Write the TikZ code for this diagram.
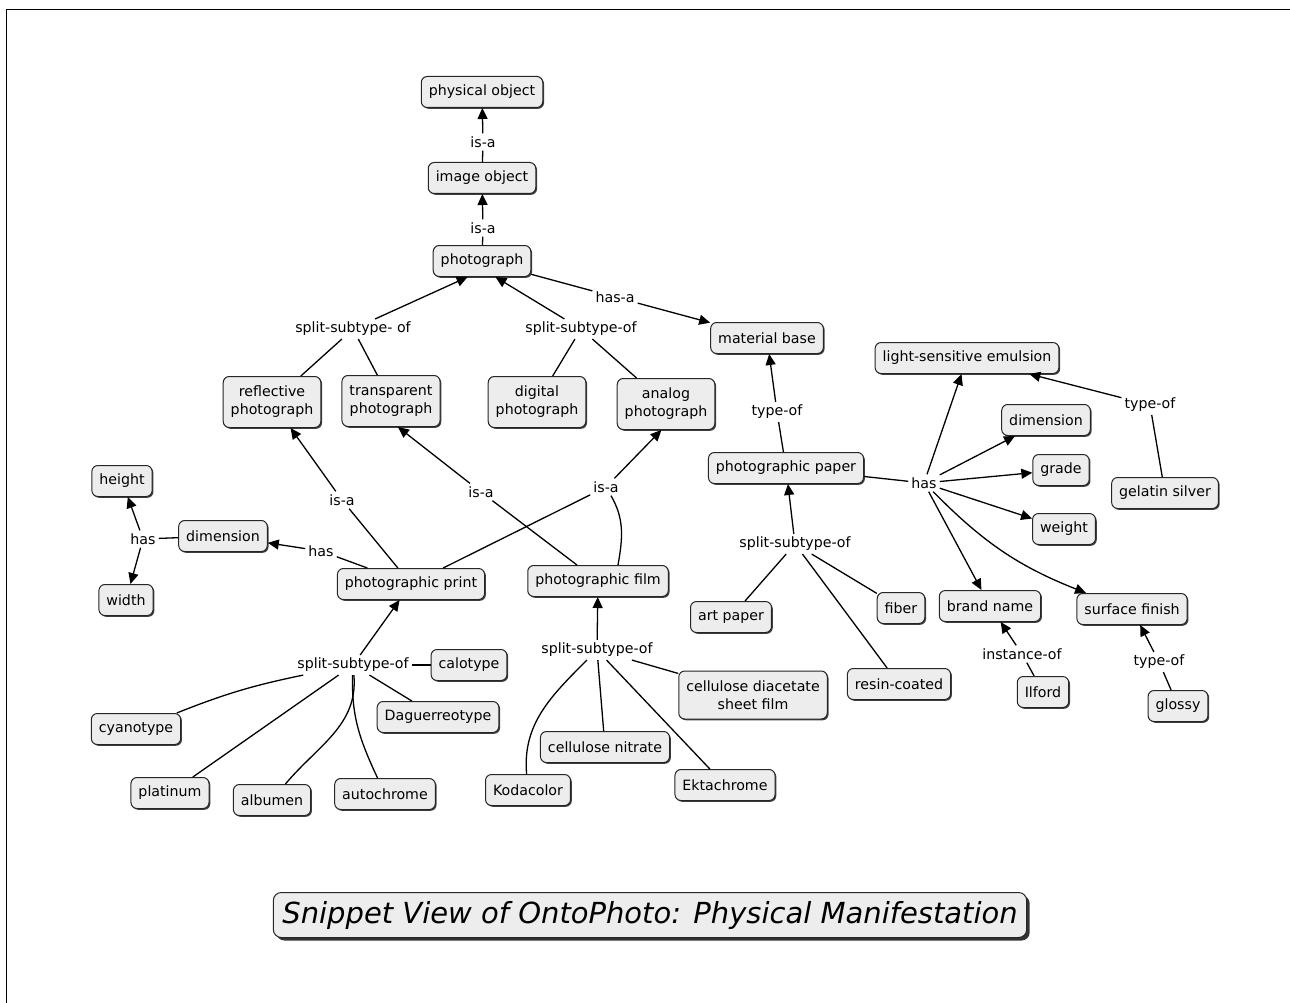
\documentclass[tikz,border=0pt]{standalone}
\usepackage{fontspec}
\setmainfont{DejaVu Sans}
\newfontfamily\titrefont{DejaVu Sans}
\usetikzlibrary{arrows.meta,shadows}

\begin{document}
\begin{tikzpicture}[x=1pt,y=-1pt,
    concept/.style={draw=black!85, line width=1pt, fill=gray!14, rounded corners=6pt,
      inner xsep=7.5pt, inner ysep=4pt, minimum height=31pt, align=center,
      font=\fontsize{14.2}{18}\selectfont,
      drop shadow={shadow xshift=1.3pt, shadow yshift=-1.3pt, fill=black!75, opacity=1}},
    double/.style={minimum height=51pt},
    lien/.style={inner sep=3pt, font=\fontsize{14.2}{16.5}\selectfont},
    trait/.style={line width=1.3pt},
    fleche/.style={trait, -{Triangle[length=11pt,width=10pt]}}]

  % Cadre
  \useasboundingbox (0,0) rectangle (1290,1003);
  \draw[line width=1.6pt] (6.5,1003) -- (6.5,9.5) -- (1290,9.5);

  % Concepts du haut
  \node[concept] (physobj) at (482,92) {physical object};
  \node[concept] (imgobj) at (482,178) {image object};
  \node[concept] (photo) at (482,261) {photograph};
  \node[concept] (matbase) at (767,338) {material base};
  \node[concept, double] (reflect) at (272,402) {reflective\\photograph};
  \node[concept, double] (transp) at (391,401) {transparent\\photograph};
  \node[concept, double] (digital) at (537,402) {digital\\photograph};
  \node[concept, double] (analog) at (666,404) {analog\\photograph};

  % Papier photographique
  \node[concept] (emulsion) at (967,358) {light-sensitive emulsion};
  \node[concept] (dimR) at (1046,420) {dimension};
  \node[concept] (paper) at (786,468) {photographic paper};
  \node[concept] (grade) at (1061,470) {grade};
  \node[concept] (gelatin) at (1165,493) {gelatin silver};
  \node[concept] (weight) at (1064,529) {weight};
  \node[concept] (brand) at (990,606) {brand name};
  \node[concept] (surface) at (1132,609) {surface finish};
  \node[concept] (ilford) at (1043,692) {Ilford};
  \node[concept] (glossy) at (1178,706) {glossy};
  \node[concept] (artpaper) at (731,617) {art paper};
  \node[concept] (fiber) at (901,608) {fiber};
  \node[concept] (resin) at (899,684) {resin-coated};

  % Tirage et film
  \node[concept] (height) at (122,481) {height};
  \node[concept] (dimL) at (223,536) {dimension};
  \node[concept] (width) at (126,600) {width};
  \node[concept] (print) at (411,584) {photographic print};
  \node[concept] (film) at (598,581) {photographic film};
  \node[concept] (calotype) at (469,665) {calotype};
  \node[concept] (cyanotype) at (136,729) {cyanotype};
  \node[concept] (daguerre) at (438,717) {Daguerreotype};
  \node[concept] (platinum) at (170,793) {platinum};
  \node[concept] (albumen) at (272,800) {albumen};
  \node[concept] (autochrome) at (385,794) {autochrome};
  \node[concept, minimum height=48pt] (diacetate) at (753,695) {cellulose diacetate\\sheet film};
  \node[concept] (nitrate) at (605,747) {cellulose nitrate};
  \node[concept] (kodacolor) at (528,790) {Kodacolor};
  \node[concept] (ektachrome) at (725,785) {Ektachrome};

  % Etiquettes des liens
  \node[lien] (isa1) at (483,142) {is-a};
  \node[lien] (isa2) at (483,228) {is-a};
  \node[lien] (hasa) at (615,297) {has-a};
  \node[lien] (split1) at (353,329) {split-subtype- of};
  \node[lien] (split2) at (581,329) {split-subtype-of};
  \node[lien] (typeof1) at (777,412) {type-of};
  \node[lien] (typeof2) at (1150,405) {type-of};
  \node[lien] (has1) at (924,483) {has};
  \node[lien] (instof) at (1022,654) {instance-of};
  \node[lien] (typeof3) at (1159,662) {type-of};
  \node[lien] (split3) at (795,544) {split-subtype-of};
  \node[lien] (isa3) at (342,500) {is-a};
  \node[lien] (isa4) at (481,492) {is-a};
  \node[lien] (isa5) at (606,487) {is-a};
  \node[lien] (has2) at (143,539) {has};
  \node[lien] (has3) at (321,551) {has};
  \node[lien] (split4) at (353,665) {split-subtype-of};
  \node[lien] (split5) at (597,650) {split-subtype-of};

  % Traits sans fleche
  \foreach \a/\b in {imgobj/isa1, photo/isa2, photo/hasa, reflect/split1, transp/split1,
      digital/split2, analog/split2, paper/typeof1, gelatin/typeof2, paper/has1,
      ilford/instof, glossy/typeof3, artpaper/split3, fiber/split3, resin/split3,
      print/isa3, film/isa4, print/isa5, dimL/has2, print/has3, calotype/split4,
      platinum/split4, daguerre/split4, nitrate/split5, diacetate/split5, ektachrome/split5} {
    \draw[trait] (\a) -- (\b);
  }

  % Fleches
  \foreach \a/\b in {isa1/physobj, isa2/imgobj, hasa/matbase, split1/photo.228, split2/photo.310,
      typeof1/matbase, typeof2/emulsion, has1/emulsion, has1/dimR, has1/grade, has1/weight,
      has1/brand, instof/brand, typeof3/surface, split3/paper, isa3/reflect, isa4/transp.285,
      isa5/analog.260, has2/height, has2/width, has3/dimL, split4/print, split5/film} {
    \draw[fleche] (\a) -- (\b);
  }

  % Liens courbes
  \draw[trait] ([xshift=20pt]film.north) to[out=80,in=-60] (isa5);
  \draw[fleche] (has1) to[bend right=12] (surface);
  \draw[trait] (split4) to[bend right=5] (cyanotype);
  \draw[trait] (split4) to[out=-85,in=50] (albumen);
  \draw[trait] (split4) to[out=-92,in=115] (autochrome);
  \draw[trait] (split5) to[out=-135,in=95] (kodacolor);

  % Titre
  \node[concept, rounded corners=8pt, inner xsep=9pt, minimum height=45pt,
    drop shadow={shadow xshift=3pt, shadow yshift=-3pt, fill=black!80, opacity=1},
    font=\titrefont\fontsize{29}{32}\selectfont\itshape] (titre) at (650,915)
    {Snippet View of OntoPhoto: Physical Manifestation};
\end{tikzpicture}
\end{document}
